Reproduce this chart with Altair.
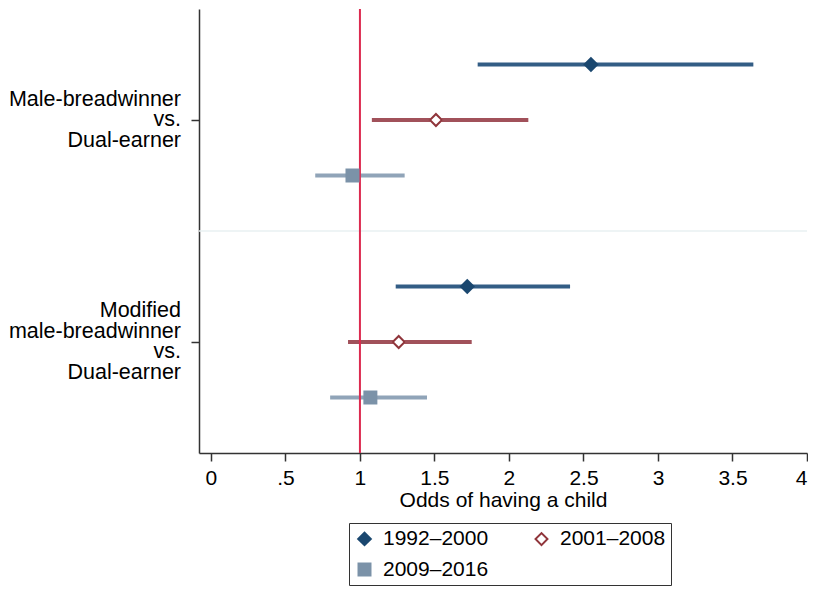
import altair as alt
import pandas as pd

# ---- data ----
groups = ["Male-breadwinner vs. Dual-earner", "Modified male-breadwinner vs. Dual-earner"]
group_label_lines = [["Male-breadwinner", "vs.", "Dual-earner"],
                     ["Modified", "male-breadwinner", "vs.", "Dual-earner"]]
periods = ["1992–2000", "2001–2008", "2009–2016"]
odds = [[2.55, 1.51, 0.95],
        [1.72, 1.26, 1.07]]
ci_low = [[1.79, 1.08, 0.70],
          [1.24, 0.92, 0.80]]
ci_high = [[3.64, 2.13, 1.30],
           [2.41, 1.75, 1.45]]
x_ticks = [0, 0.5, 1, 1.5, 2, 2.5, 3, 3.5, 4]
reference_value = 1

# ---- styling ----
line_colors = ["#335d85", "#a1515a", "#90a4b8"]
fill_colors = ["#1a476f", "#90353b", "#7b92a8"]
HOLLOW_DIAMOND = "M0,-1L1,0L0,1L-1,0Z M0,-0.62L-0.62,0L0,0.62L0.62,0Z"
shapes = ["diamond", HOLLOW_DIAMOND, "square"]
sizes = [240, 196, 150]
FONT = "Liberation Sans"
LINE_H = 20.5

rows = []
for gi, g in enumerate(groups):
    for pi, p in enumerate(periods):
        rows.append({
            "group": g,
            "period": p,
            "row": gi * 4 + pi + 1,
            "odds": odds[gi][pi],
            "lo": ci_low[gi][pi],
            "hi": ci_high[gi][pi],
        })
df = pd.DataFrame(rows)

group_rows = [gi * 4 + 2 for gi in range(len(groups))]

xscale = alt.Scale(domain=[-0.08, 4.0], nice=False, zero=False)
yscale = alt.Scale(domain=[0, 8], reverse=True, nice=False, zero=False)

base = alt.Chart(df)

ci = base.mark_rule(strokeWidth=4).encode(
    x=alt.X("lo:Q", scale=xscale,
            axis=alt.Axis(values=x_ticks, title="Odds of having a child",
                          labelExpr="datum.value == 0.5 ? '.5' : format(datum.value, '~g')",
                          grid=False, tickSize=8, labelPadding=6, titlePadding=1)),
    x2="hi:Q",
    y=alt.Y("row:Q", scale=yscale,
            axis=alt.Axis(values=group_rows, labels=False, title=None,
                          grid=False, tickSize=8)),
    color=alt.Color("period:N", scale=alt.Scale(domain=periods, range=line_colors), legend=None),
)

# group labels (multi-line), one text layer per group so each block is centred on its tick
label_layers = []
for r, lines in zip(group_rows, group_label_lines):
    ldf = pd.DataFrame({"row": [r], "text": ["\n".join(lines)]})
    label_layers.append(
        alt.Chart(ldf).mark_text(
            align="right", baseline="middle", lineBreak="\n", lineHeight=LINE_H,
            font=FONT, fontSize=21.5, color="#000000",
            dx=-18, dy=-(len(lines) - 1) * LINE_H / 2,
        ).encode(x=alt.value(0), y=alt.Y("row:Q", scale=yscale), text="text:N")
    )

sep = alt.Chart(pd.DataFrame({"y": [4]})).mark_rule(color="#e8f1f2", strokeWidth=1.5).encode(
    y=alt.Y("y:Q", scale=yscale)
)

ref = alt.Chart(pd.DataFrame({"x": [reference_value]})).mark_rule(color="#dc2a4f", strokeWidth=2).encode(
    x=alt.X("x:Q", scale=xscale)
)

# white backing for the hollow marker so the CI line does not show through it
hollow_bg = base.transform_filter(alt.datum.period == periods[1]).mark_point(
    shape="diamond", filled=True, color="#ffffff", size=sizes[1], opacity=1, strokeWidth=0
).encode(x=alt.X("odds:Q", scale=xscale), y=alt.Y("row:Q", scale=yscale))

legend = alt.Legend(title=None, orient="none", legendX=150, legendY=514,
                    direction="horizontal", columns=2, columnPadding=42, rowPadding=8,
                    padding=5, strokeColor="#333333",
                    labelFont=FONT, labelFontSize=21, labelColor="#000000",
                    labelOffset=8)

pts = base.mark_point(filled=True, strokeWidth=0, opacity=1).encode(
    x=alt.X("odds:Q", scale=xscale),
    y=alt.Y("row:Q", scale=yscale),
    fill=alt.Fill("period:N", scale=alt.Scale(domain=periods, range=fill_colors), legend=legend),
    shape=alt.Shape("period:N", scale=alt.Scale(domain=periods, range=shapes), legend=legend),
    size=alt.Size("period:N", scale=alt.Scale(domain=periods, range=sizes), legend=legend),
)

chart = alt.layer(sep, ci, ref, hollow_bg, pts, *label_layers).resolve_scale(
    color="independent"
).properties(
    width=608, height=444, padding={"left": 0, "right": 0, "top": 0, "bottom": 0}
).configure_view(stroke=None).configure_axis(
    labelFont=FONT, titleFont=FONT, labelFontSize=21, titleFontSize=21,
    labelColor="#000000", titleColor="#000000", titleFontWeight="normal",
    domainColor="#333333", domainWidth=1.5, tickColor="#333333", tickWidth=1.5,
).configure_legend(strokeWidth=1)

chart.save("out.html", embed_options={"renderer": "svg", "actions": False})
